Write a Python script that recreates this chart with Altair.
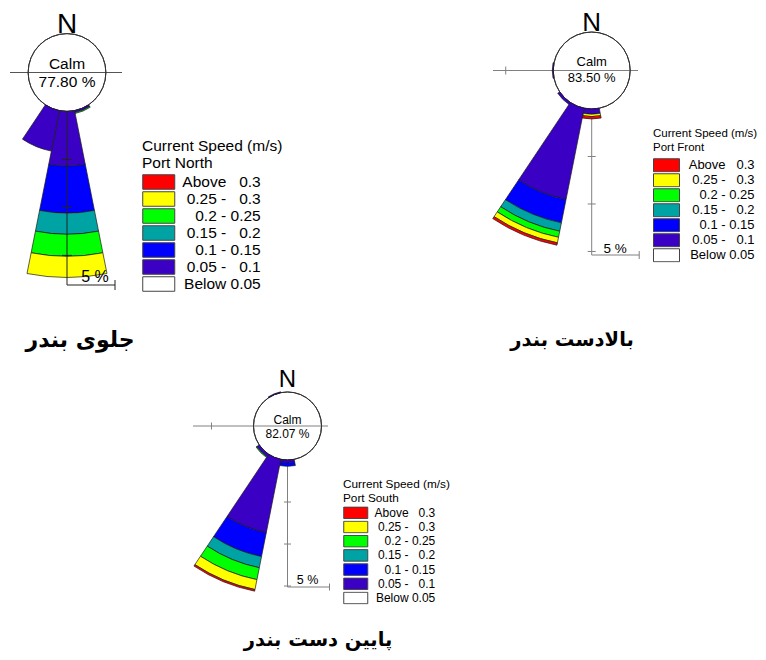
import math
import altair as alt
import pandas as pd

# ------------------------------------------------------------------ data
directions = ["N", "NNE", "NE", "ENE", "E", "ESE", "SE", "SSE",
              "S", "SSW", "SW", "WSW", "W", "WNW", "NW", "NNW"]
speed_bins = ["Above 0.3", "0.25 - 0.3", "0.2 - 0.25", "0.15 - 0.2",
              "0.1 - 0.15", "0.05 - 0.1", "Below 0.05"]
speed_colors = ["#ff0000", "#ffff00", "#00ff00", "#00a3a3",
                "#0000ff", "#3a00c4", "#ffffff"]
NB = "\u00a0"
speed_labels = [f"Above{NB*3}0.3", f"0.25 -{NB*3}0.3", "0.2 - 0.25",
                f"0.15 -{NB*3}0.2", "0.1 - 0.15", f"0.05 -{NB*3}0.1",
                "Below 0.05"]

# Port North (frequency %, per direction, speed class from 0.05-0.1 outward)
north_calm = 77.80
north_dirs = ["SSE", "S", "SSW"]
north_v005 = [0.20, 5.70, 4.30]
north_v010 = [0.00, 4.90, 0.00]
north_v015 = [0.00, 2.20, 0.00]
north_v020 = [0.10, 2.30, 0.00]
north_v025 = [0.00, 2.20, 0.00]
north_v030 = [0.00, 0.00, 0.00]

# Port Front
front_calm = 83.50
front_dirs = ["S", "SSW", "SW", "W"]
front_v005 = [0.55, 9.80, 0.25, 0.10]
front_v010 = [0.00, 2.50, 0.00, 0.00]
front_v015 = [0.00, 0.90, 0.00, 0.00]
front_v020 = [0.00, 0.65, 0.00, 0.00]
front_v025 = [0.25, 0.60, 0.00, 0.00]
front_v030 = [0.25, 0.25, 0.00, 0.00]

# Port South
south_calm = 82.07
south_dirs = ["S", "SSW", "SW", "NNW"]
south_v005 = [0.30, 8.90, 0.35, 0.10]
south_v010 = [0.45, 2.90, 0.00, 0.00]
south_v015 = [0.00, 1.35, 0.00, 0.00]
south_v020 = [0.00, 1.45, 0.10, 0.00]
south_v025 = [0.00, 1.20, 0.00, 0.00]
south_v030 = [0.00, 0.20, 0.00, 0.00]

ticks_pct = [5, 10, 15]

# ------------------------------------------------------------------ layout
W, H = 750, 644
FONT = "Liberation Sans"
FA_FONT = "DejaVu Sans"


def petal_table(dirs, cols):
    rows = []
    for i, d in enumerate(dirs):
        b = directions.index(d) * 22.5
        cum = 0.0
        for j, vals in enumerate(cols):
            v = vals[i]
            if v <= 0:
                continue
            rows.append(dict(dir=d, cls=speed_labels[5 - j], t1=b - 11.25,
                             t2=b + 11.25, r1=cum, r2=cum + v, cx=0.0, cy=0.0))
            cum += v
    return pd.DataFrame(rows)


def rose(df, calm, name_en, name_fa, L):
    k, c = L["k"], L["c"]
    cx, cy = L["center"][0] - 8, L["center"][1] - 8
    u = lambda px: px / k
    xs = alt.Scale(domain=[-cx / k, (W - cx) / k], nice=False, zero=False)
    ys = alt.Scale(domain=[(cy - H) / k, cy / k], nice=False, zero=False)
    rs = alt.Scale(type="linear", domain=[0, 40], range=[c * k, (c + 40) * k])
    ts = alt.Scale(domain=[0, 360], range=[0, 2 * math.pi])
    ex = lambda f: alt.X(f, type="quantitative", scale=xs, axis=None)
    ey = lambda f: alt.Y(f, type="quantitative", scale=ys, axis=None)

    vend = u(L["bar_dy"])
    t = u(L["tick"])
    hseg = [(u(L["h"][0]), 0, u(L["h"][1]), 0)]
    if L["h_tick"]:
        hseg.append((-(c + 5), -t, -(c + 5), t))
    vseg = [(0, -c, 0, -vend), (0, -vend, 5, -vend), (5, -vend - t, 5, -vend + t)]
    vseg += [(-t, -(c + p), t, -(c + p)) for p in ticks_pct]
    cols = ["x", "y", "x2", "y2"]

    def rules(segs, color):
        return alt.Chart(pd.DataFrame(segs, columns=cols)).mark_rule(
            color=color, strokeWidth=1).encode(
            x=ex("x"), y=ey("y"), x2="x2:Q", y2="y2:Q")

    h_axis = rules(hseg, L["hcol"])
    v_axis = rules(vseg, L["vcol"])

    calm_df = pd.DataFrame({"cx": [0.0], "cy": [0.0], "r": [0.0]})
    circle = alt.Chart(calm_df).mark_arc(
        theta=0, theta2=2 * math.pi, fill="white", stroke="#333",
        strokeWidth=1).encode(x=ex("cx"), y=ey("cy"),
                              radius=alt.Radius("r:Q", scale=rs))

    w, h = L["sym"]
    a = w / h
    legend = alt.Legend(
        title=["Current Speed (m/s)", name_en], orient="none",
        legendX=L["leg"][0] - 8, legendY=L["leg"][1] - 8,
        titleFont=FONT, titleFontSize=L["tfs"], titleFontWeight="normal",
        titleColor="black", titleLineHeight=L["tlh"], titlePadding=L["tpad"],
        labelFont=FONT, labelFontSize=L["lfs"], labelColor="black",
        labelOffset=L["loff"], labelLimit=0, labelAlign="right",
        symbolType=f"M-{a:.3f},-1H{a:.3f}V1H-{a:.3f}Z", symbolSize=h * h,
        symbolOffset=(w - h) / 2, symbolStrokeColor="#444",
        symbolStrokeWidth=1, symbolOpacity=1,
        clipHeight=h + 1.5, rowPadding=L["spacing"] - h - 1.5,
        padding=0, offset=0)

    petals = alt.Chart(df).mark_arc(stroke="#1a1a1a", strokeWidth=0.7).encode(
        x=ex("cx"), y=ey("cy"),
        theta=alt.Theta("t1:Q", scale=ts, stack=None), theta2="t2:Q",
        radius=alt.Radius("r1:Q", scale=rs, stack=None), radius2="r2:Q",
        color=alt.Color("cls:N", scale=alt.Scale(domain=speed_labels,
                                                 range=speed_colors),
                        legend=legend))

    txt = pd.DataFrame({
        "x": [0, 0, 0, u(L["five_dx"])],
        "y": [u(L["n_dy"]), u(-L["calm_dy"][0]), u(-L["calm_dy"][1]),
              -vend + u(L["five_up"])],
        "text": ["N", "Calm", f"{calm:.2f} %", "5 %"],
        "fs": [L["n_fs"], L["calm_fs"], L["calm_fs"], L["five_fs"]],
    })
    texts = alt.Chart(txt).mark_text(font=FONT, color="black",
                                     baseline="middle").encode(
        x=ex("x"), y=ey("y"), text="text:N",
        size=alt.Size("fs:Q", scale=None))

    fa = pd.DataFrame({"x": [u(L["fa"][0])], "y": [u(-L["fa"][1])],
                       "text": [name_fa]})
    fa_text = alt.Chart(fa).mark_text(font=FA_FONT, fontWeight="bold",
                                      fontSize=L["fa_fs"], color="black",
                                      baseline="middle").encode(
        x=ex("x"), y=ey("y"), text="text:N")

    if L["v_top"]:
        layers = [h_axis, circle, petals, v_axis, texts, fa_text]
    else:
        layers = [h_axis, v_axis, circle, petals, texts, fa_text]
    return alt.layer(*layers)


L_north = dict(center=(67, 72.5), k=9.6, c=4.05, h=(-57, 55), h_tick=False,
               bar_dy=212.5, tick=5, hcol="#555", vcol="#222", v_top=True,
               n_dy=47.5, n_fs=28, calm_dy=(-8.5, 9.5), calm_fs=15.5,
               five_dx=28, five_up=8, five_fs=16,
               leg=(142, 139), tfs=15.5, tlh=16.5, tpad=3, lfs=15.5,
               loff=94, sym=(32, 14.5), spacing=15.5,
               fa=(13, 267.5), fa_fs=22)
L_front = dict(center=(591.7, 70.5), k=9.5, c=4.05, h=(-98.7, 46.3),
               h_tick=True, bar_dy=184.5, tick=4, hcol="#808080",
               vcol="#808080", v_top=False,
               n_dy=47.5, n_fs=26, calm_dy=(-8.8, 7.8), calm_fs=13,
               five_dx=23.3, five_up=6, five_fs=13.5,
               leg=(653, 128), tfs=11.5, tlh=13.5, tpad=5, lfs=13,
               loff=81, sym=(26, 13), spacing=13.8,
               fa=(-19.7, 269.5), fa_fs=19.5)
L_south = dict(center=(287.5, 426), k=8.4, c=4.05, h=(-94.5, 40.5),
               h_tick=True, bar_dy=161, tick=3.5, hcol="#808080",
               vcol="#808080", v_top=False,
               n_dy=46, n_fs=24, calm_dy=(-6, 7.5), calm_fs=12,
               five_dx=20, five_up=7, five_fs=12.5,
               leg=(343, 479), tfs=11.8, tlh=13.5, tpad=2, lfs=12,
               loff=73, sym=(24, 11.5), spacing=14.2,
               fa=(30.5, 214), fa_fs=19.5)

north = rose(petal_table(north_dirs, [north_v005, north_v010, north_v015,
                                      north_v020, north_v025, north_v030]),
             north_calm, "Port North", "جلوی بندر", L_north)
front = rose(petal_table(front_dirs, [front_v005, front_v010, front_v015,
                                      front_v020, front_v025, front_v030]),
             front_calm, "Port Front", "بالادست بندر", L_front)
south = rose(petal_table(south_dirs, [south_v005, south_v010, south_v015,
                                      south_v020, south_v025, south_v030]),
             south_calm, "Port South", "پایین دست بندر", L_south)

chart = alt.layer(north, front, south).resolve_scale(
    x="independent", y="independent", radius="independent",
    theta="independent", color="independent").resolve_legend(
    color="independent").properties(
    width=W, height=H, padding=0, autosize="none", background="white"
).configure_view(stroke=None)

chart.save("out.html", embed_options={"renderer": "svg", "actions": False})
